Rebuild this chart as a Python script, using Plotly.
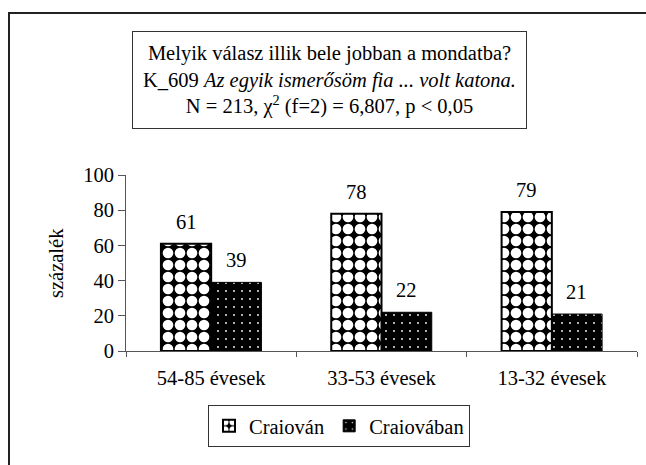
import plotly.graph_objects as go

categories = ["54-85 évesek", "33-53 évesek", "13-32 évesek"]
craiovan = [61, 78, 79]
craiovaban = [39, 22, 21]
y_ticks = [0, 20, 40, 60, 80, 100]

FONT = "Liberation Serif"
FS = 20.5
W, H = 646, 465
L, R, T, B = 126, 637, 175, 351  # plot area in pixels


def px_x(p):
    return (p - L) / (R - L)


def px_y(p):
    return (B - p) / (B - T)


fig = go.Figure()
fig.add_trace(go.Bar(
    x=categories, y=craiovan, name="Craiován",
    marker=dict(color="black", line=dict(color="black", width=2),
                pattern=dict(shape=".", fgcolor="white", bgcolor="black",
                             fgopacity=1, size=12, solidity=0.62)),
))
fig.add_trace(go.Bar(
    x=categories, y=craiovaban, name="Craiovában",
    marker=dict(color="black", line=dict(color="black", width=1),
                pattern=dict(shape=".", fgcolor="white", bgcolor="black",
                             fgopacity=1, size=8, solidity=0.04)),
))

# value labels above the bars
for i, cat in enumerate(categories):
    for val, shift in ((craiovan[i], -25), (craiovaban[i], 25)):
        fig.add_annotation(x=cat, y=val, text=str(val), showarrow=False,
                           xshift=shift, yshift=22, yanchor="middle")

# title box
fig.add_annotation(
    xref="paper", yref="paper", x=px_x(329.5), y=px_y(80),
    xanchor="center", yanchor="middle", showarrow=False,
    text=("Melyik válasz illik bele jobban a mondatba?<br>"
          "K_609 <i>Az egyik ismerősöm fia ... volt katona.</i><br>"
          "N = 213, χ<sup>2</sup> (f=2) = 6,807, p &lt; 0,05"),
    width=385, height=88, borderpad=4, bordercolor="#333", borderwidth=1,
    bgcolor="white",
)

# y axis title
fig.add_annotation(xref="paper", yref="paper", x=px_x(56), y=px_y(263),
                   text="százalék", textangle=-90, showarrow=False,
                   xanchor="center", yanchor="middle")

# outer frame of the chart, running off the right and bottom edges
fig.add_shape(type="rect", xref="paper", yref="paper", layer="below",
              x0=px_x(9), x1=px_x(720), y0=px_y(13), y1=px_y(520),
              line=dict(color="#222", width=2))

fig.update_layout(
    width=W, height=H,
    margin=dict(l=L, r=W - R, t=T, b=H - B, autoexpand=False),
    paper_bgcolor="white", plot_bgcolor="white",
    barmode="group", bargap=0.41, bargroupgap=0,
    font=dict(family=FONT, size=FS, color="black"),
    showlegend=True,
    legend=dict(orientation="h", x=px_x(339), y=px_y(405),
                xanchor="center", yanchor="top",
                bordercolor="#333", borderwidth=1,
                itemwidth=30, tracegroupgap=0),
)
fig.update_yaxes(range=[0, 100], tickvals=y_ticks, ticks="outside", ticklen=7,
                 tickcolor="#555", showline=True, linecolor="#555", linewidth=1,
                 showgrid=False, zeroline=False)
fig.update_xaxes(tickson="boundaries", ticks="outside", ticklen=5,
                 tickcolor="#555", showline=True, linecolor="#555", linewidth=1,
                 showgrid=False, ticklabelstandoff=8)

# drop the default page margin so the figure fills the window exactly
fig.write_html("out.html", config={"displayModeBar": False},
               post_script="document.body.style.margin='0';"
                           "document.body.style.overflow='hidden';")
